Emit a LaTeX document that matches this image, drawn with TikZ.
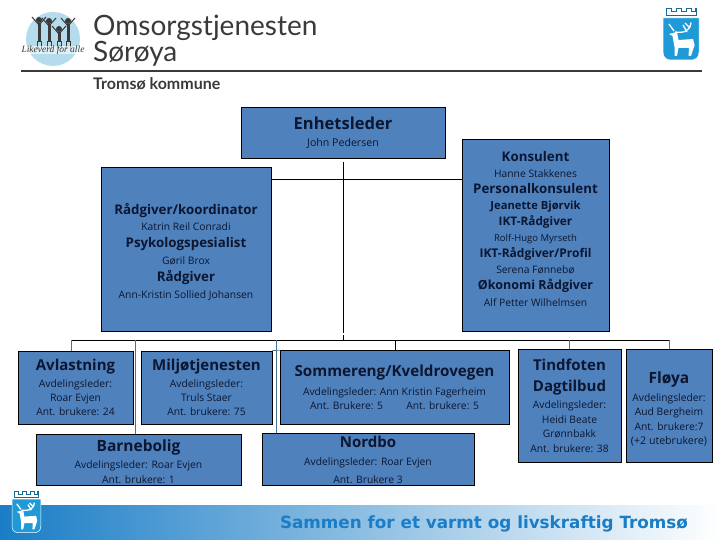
\documentclass[tikz,border=0pt]{standalone}
\usepackage{fontspec}
\setmainfont{Open Sans}
\newfontfamily\logofont{Lato}
\newfontfamily\bandfont{DejaVu Sans}
\newfontfamily\mottofont{Liberation Serif}
\usetikzlibrary{positioning}

\definecolor{boxblue}{HTML}{4F81BD}
\definecolor{boxtext}{HTML}{0C1630}
\definecolor{droptint}{HTML}{4A7391}
\definecolor{logogrey}{HTML}{3A3A3A}
\definecolor{armsblue}{HTML}{1F9AD6}
\definecolor{bandblue}{HTML}{1A7DC6}
\definecolor{bandmid}{HTML}{8FC2EE}
\definecolor{circleblue}{HTML}{B5DCEC}

\newcommand{\hd}[2][13.3]{{\fontsize{#1}{10}\selectfont\bfseries #2}}
\newcommand{\nm}[2][10.3]{{\fontsize{#1}{10}\selectfont #2}}
\newcommand{\lift}[1]{\rule[-#1pt]{0pt}{#1pt}}
\newcommand{\pad}[1]{\rule{0pt}{#1pt}}

\tikzset{
  orgbox/.style={draw=black, fill=boxblue, text=boxtext, line width=0.7pt, align=center, inner sep=0pt},
  drop/.style={draw=droptint, line width=0.8pt},
  bus/.style={draw=black, line width=0.8pt},
  arms/.pic={
    \fill[armsblue, draw=white, line width=0.5pt] (0,10) -- (36,10) -- (36,44) .. controls (36,50) and (32,52) .. (28,52) -- (8,52) .. controls (4,52) and (0,50) .. (0,44) -- cycle;
    \draw[armsblue!70!black, line width=1pt] (3,8) -- (3,1) -- (8,1) -- (8,4) -- (13,4) -- (13,1) -- (18,1) -- (18,4) -- (23,4) -- (23,1) -- (28,1) -- (28,4) -- (32,4) -- (32,1) -- (33,1) -- (33,8) -- cycle;
    \fill[white] (5.8,26) -- (14,24) -- (15.5,32) -- (30,31) -- (31.6,37) -- (28,48) -- (25.5,48) -- (26,40) -- (15.5,40) -- (14,48) -- (11.5,48) -- (11.5,39) -- (10,31) -- (9.6,28) -- cycle;
    \draw[white, line width=1.3pt] (12,24) .. controls (20,25) and (27,24) .. (28,14.5) (24,24) -- (20,17) (27,20) -- (22,15) (11,23) -- (6,16);
  }
}

\begin{document}
\begin{tikzpicture}[x=1pt, y=-1pt]
    \useasboundingbox (0,0) rectangle (720,540);

    % Band
    \fill[left color=bandblue, middle color=bandmid, right color=white] (0,505) rectangle (720,540);
    \node (slogan) at (484,524) [text=bandblue, font=\bandfont\bfseries\fontsize{16.8}{18}\selectfont] {Sammen for et varmt og livskraftig Tromsø};

    % Logos
    \fill[circleblue] (53,39) circle (27pt);
    \foreach \px/\hy/\ft in {39/20/50, 49/21/50, 59/29/50, 68/21/50} {
      \fill[logogrey] (\px,\hy) circle (3pt);
      \draw[logogrey, line width=3pt] (\px,\hy+3) -- (\px,\ft-8);
      \draw[logogrey, line width=1pt] (\px-2,\ft-9) -- (\px-2,\ft-1) (\px+2,\ft-9) -- (\px+2,\ft-1);
      \draw[logogrey, line width=1pt] (\px-7,\hy-3) -- (\px,\hy+5) -- (\px+7,\hy-3);
    }
    \node (motto) at (53,50) [text=logogrey, fill=white, fill opacity=0.6, text opacity=1, inner sep=0pt, font=\mottofont\itshape\fontsize{9.5}{10}\selectfont] {Likeverd for alle};
    \node (title) at (93,36) [anchor=base west, inner sep=0pt, text=logogrey, font=\logofont\fontsize{28}{30}\selectfont] {Omsorgstjenesten};
    \node (place) at (93,62) [anchor=base west, inner sep=0pt, text=logogrey, font=\logofont\fontsize{28}{30}\selectfont] {Sørøya};
    \node (kommune) at (93,90) [anchor=base west, inner sep=0pt, text=logogrey, font=\logofont\bfseries\fontsize{16}{18}\selectfont] {Tromsø kommune};
    \coordinate (rulel) at (21,71);
    \coordinate (ruler) at (702,71);
    \draw[logogrey, line width=2.6pt] (rulel) -- (ruler);
    \pic at (663,8) {arms};
    \pic[scale=0.8] at (12,491) {arms};

    % Nodes
    \node (enhet) at (343,132.5) [orgbox, minimum width=204pt, minimum height=51pt] {\hd[16.5]{Enhetsleder}\\[5pt] \nm[10.6]{John Pedersen}};
    \node (konsulent) [right of=enhet, node distance=192.5pt, yshift=-102.5pt, orgbox, minimum width=147pt, minimum height=192pt, font=\fontsize{9}{16.1}\selectfont] {\hd{Konsulent}\\ \nm{Hanne Stakkenes}\\ \hd{Personalkonsulent}\\ \hd[11.2]{Jeanette Bjørvik}\\ \hd[11.8]{IKT-Rådgiver}\\ \nm[9.5]{Rolf-Hugo Myrseth}\\ \hd[12]{IKT-Rådgiver/Profil}\\ \nm{Serena Fønnebø}\\ \hd[12.5]{Økonomi Rådgiver}\\ \nm{Alf Petter Wilhelmsen}\lift{13}};
    \node (radgiver) [left of=enhet, node distance=157pt, yshift=-116.5pt, orgbox, minimum width=170pt, minimum height=164pt, font=\fontsize{9}{16.8}\selectfont] {\pad{16}\hd{Rådgiver/koordinator}\\ \nm{Katrin Reil Conradi}\\ \hd{Psykologspesialist}\\ \nm{Gøril Brox}\\ \hd{Rådgiver}\\ \nm{Ann-Kristin Sollied Johansen}};

    \node (avlastning) [below of=radgiver, node distance=138.5pt, xshift=-110.5pt, orgbox, minimum width=115pt, minimum height=73pt, font=\fontsize{9}{14}\selectfont] {\hd[15]{Avlastning}\\[3pt] \nm{Avdelingsleder:}\\ \nm{Roar Evjen}\\ \nm{Ant. brukere: 24}};
    \node (miljo) [right of=avlastning, node distance=131pt, orgbox, minimum width=131pt, minimum height=73pt, font=\fontsize{9}{14}\selectfont] {\hd[15]{Miljøtjenesten}\\[3pt] \nm{Avdelingsleder:}\\ \nm{Truls Staer}\\ \nm{Ant. brukere: 75}};
    \node (barnebolig) [below of=avlastning, node distance=72pt, xshift=63pt, orgbox, minimum width=205pt, minimum height=51pt, font=\fontsize{9}{15}\selectfont] {\pad{16}\hd[15.5]{Barnebolig}\\[2pt] \nm{Avdelingsleder: Roar Evjen}\\ \nm{Ant. brukere: 1}};
    \node (sommereng) [right of=miljo, node distance=188pt, orgbox, minimum width=229pt, minimum height=74pt, font=\fontsize{9}{14}\selectfont] {\hd[15.2]{Sommereng/Kveldrovegen}\\[5pt] \nm{Avdelingsleder: Ann Kristin Fagerheim}\\ \nm{Ant. Brukere: 5 \hspace{18pt} Ant. brukere: 5}};
    \node (nordbo) [below of=sommereng, node distance=72pt, xshift=-26.5pt, orgbox, minimum width=212pt, minimum height=52pt, font=\fontsize{9}{18}\selectfont] {\hd[15]{Nordbo}\\ \nm{Avdelingsleder: Roar Evjen}\\ \nm{Ant. Brukere 3}};
    \node (tindfoten) [right of=sommereng, node distance=175pt, yshift=-18.5pt, orgbox, minimum width=103pt, minimum height=113pt, font=\fontsize{9}{14.5}\selectfont] {\hd[15]{Tindfoten}\\[6pt] \hd[15]{Dagtilbud}\\[3pt] \nm{Avdelingsleder:}\\ \nm{Heidi Beate}\\ \nm{Grønnbakk}\\ \nm{Ant. brukere: 38}};
    \node (floya) [right of=tindfoten, node distance=99.5pt, orgbox, minimum width=86pt, minimum height=113pt, font=\fontsize{9}{14.5}\selectfont] {\pad{18}\hd[15.5]{Fløya}\\[3pt] \nm{Avdelingsleder:}\\ \nm{Aud Bergheim}\\ \nm{Ant. brukere:7}\\ \nm[10.6]{(+2 utebrukere)}};

    % Connectors
    \coordinate (stemtop) at (343,162);
    \coordinate (stemend) at (343,333);
    \coordinate (stemtick) at (343.5,335);
    \coordinate (busl) at (71,340);
    \coordinate (busb) at (135,340);
    \coordinate (busn) at (276,340);
    \coordinate (buss) at (395,340);
    \coordinate (bust) at (569,340);
    \coordinate (busr) at (669,340);

    \draw[bus] (stemtop) -- (stemend);
    \draw[bus] (stemtick) -- (stemtick |- busl);
    \draw[bus] (radgiver.east |- 0,179) -- (konsulent.west |- 0,179);
    \draw[bus] (busl) -- (busr);
    \draw[bus] (buss) -- (buss |- sommereng.north);
    \draw[drop] (busl) -- (busl |- avlastning.north);
    \draw[drop] (busb) -- (busb |- barnebolig.north);
    \draw[drop] (busn) -- (busn |- nordbo.north);
    \draw[drop] (miljo.north east) -- (sommereng.north west);
    \draw[drop] (bust) -- (bust |- tindfoten.north);
    \draw[drop] (busr) -- (busr |- floya.north);

\end{tikzpicture}
\end{document}
